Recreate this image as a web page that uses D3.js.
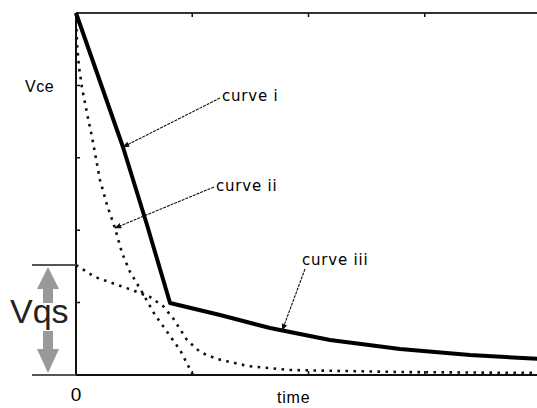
<!DOCTYPE html>
<html>
  <head>
    <title>Vce vs time</title>
    <script src="https://d3js.org/d3.v7.min.js"></script>
    <style>
      body { margin: 0; background: #fff; }
      text { font-family: "DejaVu Sans", Arial, sans-serif; fill: #000; }
    </style>
  </head>
  <body>
    <svg></svg>
    <script>
      // curve values, x = time (0..4), y = voltage (0..5)
      const curveI = [
        [0, 5], [0.404, 3.149], [0.611, 2.072], [0.809, 0.994],
        [1.239, 0.829], [1.669, 0.649], [2.185, 0.483], [2.787, 0.359],
        [3.389, 0.276], [4.0, 0.221]
      ];
      const curveII = [
        [0, 5], [0.009, 4.558], [0.026, 4.254], [0.052, 3.964], [0.103, 3.55],
        [0.138, 3.287], [0.206, 2.693], [0.267, 2.348], [0.335, 2.03],
        [0.396, 1.685], [0.465, 1.423], [0.568, 1.146], [0.68, 0.829],
        [0.791, 0.58], [0.895, 0.345], [1.006, 0]
      ];
      const curveIII = [
        [0, 1.519], [0.163, 1.354], [0.31, 1.271], [0.482, 1.174],
        [0.637, 1.077], [0.748, 0.953], [0.834, 0.787], [0.955, 0.483],
        [1.067, 0.318], [1.213, 0.221], [1.48, 0.124], [1.841, 0.069],
        [2.787, 0.041], [4.0, 0.028]
      ];
      const vqs = 1.519;
      const xTicks = [1, 2, 3];
      const yTicks = [1, 2, 3, 4];

      const width = 537, height = 408;
      const svg = d3.select('svg')
        .attr('width', width)
        .attr('height', height);

      const x = d3.scaleLinear().domain([0, 4]).range([76, 541]);
      const y = d3.scaleLinear().domain([0, 5]).range([375, 13]);

      // arrowhead for the labels
      svg.append('defs').append('marker')
        .attr('id', 'arr')
        .attr('viewBox', '0 0 10 10')
        .attr('refX', 9).attr('refY', 5)
        .attr('markerWidth', 7).attr('markerHeight', 7)
        .attr('markerUnits', 'userSpaceOnUse')
        .attr('orient', 'auto')
        .append('path')
          .attr('d', 'M0,1 L10,5 L0,9 Z')
          .attr('fill', '#111');

      // frame with inward ticks
      const frame = svg.append('g');
      frame.append('line').attr('x1', x(0)).attr('x2', x(4)).attr('y1', y(5)).attr('y2', y(5))
        .attr('stroke', '#333').attr('stroke-width', 2);
      frame.append('line').attr('x1', x(0)).attr('x2', x(4)).attr('y1', y(0)).attr('y2', y(0))
        .attr('stroke', '#111').attr('stroke-width', 2);
      frame.append('line').attr('x1', x(0)).attr('x2', x(0)).attr('y1', y(5)).attr('y2', y(0))
        .attr('stroke', '#111').attr('stroke-width', 2);
      frame.append('line').attr('x1', x(4)).attr('x2', x(4)).attr('y1', y(5)).attr('y2', y(0))
        .attr('stroke', '#111').attr('stroke-width', 2);

      frame.selectAll('.xt').data(xTicks).enter().append('path')
        .attr('d', d => `M${x(d)},${y(5)}v4M${x(d)},${y(0)}v-4`)
        .attr('stroke', '#111').attr('stroke-width', 1.5);
      frame.selectAll('.yt').data(yTicks).enter().append('path')
        .attr('d', d => `M${x(0)},${y(d)}h4M${x(4)},${y(d)}h-4`)
        .attr('stroke', '#111').attr('stroke-width', 1.5);

      // Vqs marker lines and gray double arrow
      svg.append('path')
        .attr('d', `M32,${y(vqs)}H${x(0)}M32,${y(0)}H${x(0)}`)
        .attr('stroke', '#555').attr('stroke-width', 2);

      const ax = 48, arrTop = y(vqs) + 2, arrBot = y(0) - 2;
      svg.append('path')
        .attr('d', `M${ax},${arrTop} L${ax + 11},${arrTop + 22} L${ax + 5},${arrTop + 22} L${ax + 5},${arrTop + 36}
                    L${ax - 5},${arrTop + 36} L${ax - 5},${arrTop + 22} L${ax - 11},${arrTop + 22} Z`)
        .attr('fill', '#999');
      svg.append('path')
        .attr('d', `M${ax},${arrBot} L${ax + 11},${arrBot - 24} L${ax + 5},${arrBot - 24} L${ax + 5},${arrBot - 42}
                    L${ax - 5},${arrBot - 42} L${ax - 5},${arrBot - 24} L${ax - 11},${arrBot - 24} Z`)
        .attr('fill', '#999');

      svg.append('text')
        .attr('x', 10).attr('y', 323)
        .style('font-family', 'Arial, "Liberation Sans", sans-serif')
        .style('font-size', '34px')
        .style('fill', '#222')
        .text('Vqs');

      // curves
      const line = d3.line().x(d => x(d[0])).y(d => y(d[1]));

      svg.append('path').datum(curveIII)
        .attr('d', line).attr('fill', 'none')
        .attr('stroke', '#111').attr('stroke-width', 2.6)
        .attr('stroke-dasharray', '2.6,5.4');
      svg.append('path').datum(curveII)
        .attr('d', line).attr('fill', 'none')
        .attr('stroke', '#111').attr('stroke-width', 2.6)
        .attr('stroke-dasharray', '2.6,5.4');
      svg.append('path').datum(curveI)
        .attr('d', line).attr('fill', 'none')
        .attr('stroke', '#000').attr('stroke-width', 4)
        .attr('stroke-linejoin', 'round');

      // labels with pointers
      const labels = [
        { name: 'curve i', tx: 222, ty: 101, from: [220, 98], to: [0.404, 3.149] },
        { name: 'curve ii', tx: 216, ty: 191, from: [214, 187], to: [0.335, 2.03] },
        { name: 'curve iii', tx: 302, ty: 265, from: [305, 269], to: [1.775, 0.62] }
      ];
      labels.forEach(l => {
        svg.append('line')
          .attr('x1', l.from[0]).attr('y1', l.from[1])
          .attr('x2', x(l.to[0])).attr('y2', y(l.to[1]))
          .attr('stroke', '#111').attr('stroke-width', 1.1)
          .attr('stroke-dasharray', '3,1')
          .attr('marker-end', 'url(#arr)');
        svg.append('text')
          .attr('x', l.tx).attr('y', l.ty)
          .style('font-size', '15px')
          .style('letter-spacing', '0.8px')
          .text(l.name);
      });

      // axis labels
      svg.append('text').attr('x', 25).attr('y', 92)
        .style('font-family', 'Arial, "Liberation Sans", sans-serif')
        .style('font-size', '16px').style('letter-spacing', '0.5px')
        .text('Vce');
      svg.append('text').attr('x', x(0)).attr('y', 401)
        .attr('text-anchor', 'middle')
        .style('font-family', 'Arial, "Liberation Sans", sans-serif')
        .style('font-size', '19px')
        .text('0');
      svg.append('text').attr('x', 277).attr('y', 403)
        .style('font-family', 'Arial, "Liberation Sans", sans-serif')
        .style('font-size', '16px').style('letter-spacing', '0.8px')
        .text('time');
    </script>
  </body>
</html>
